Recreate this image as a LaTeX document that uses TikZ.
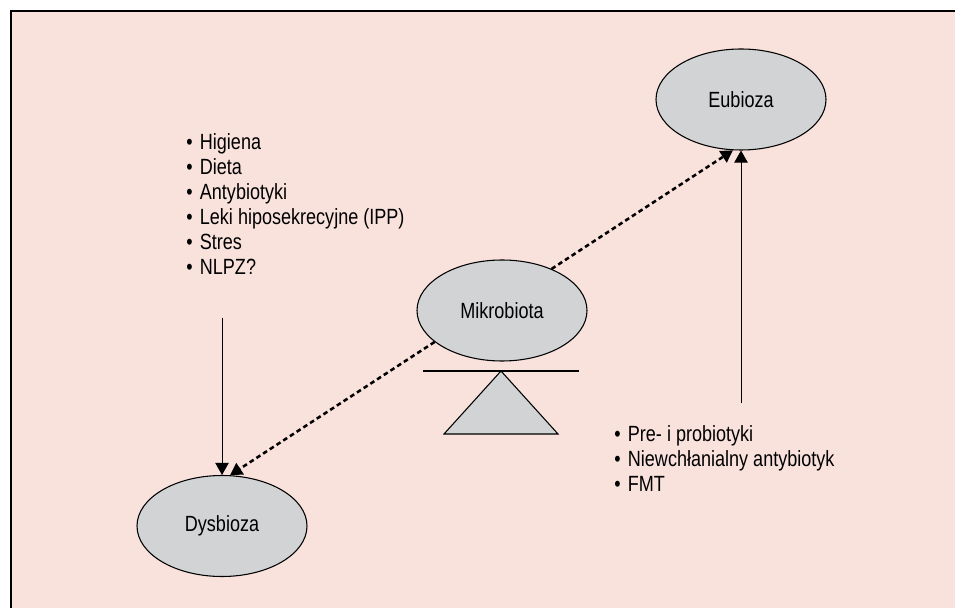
\documentclass[tikz,border=0pt]{standalone}
\usepackage{fontspec}
\setmainfont[FakeStretch=0.82]{Liberation Sans}
\usetikzlibrary{arrows.meta,shapes.geometric}
\definecolor{mbpink}{HTML}{F9E1DC}
\definecolor{mbgrey}{HTML}{D1D3D4}
\tikzset{
  oval/.style={ellipse, draw=black, line width=0.8pt, fill=mbgrey,
    minimum width=127.5pt, minimum height=75.75pt, inner sep=0pt, font=\fontsize{16.5pt}{19pt}\selectfont},
  flow/.style={-{Triangle[length=9pt, width=10pt]}, line width=0.75pt, draw=black},
  dflow/.style={-{Triangle[length=9pt, width=10pt]}, line width=1.9pt, draw=black,
    dash pattern=on 3.5pt off 2.5pt},
  bullets/.style={align=left, inner sep=0pt, anchor=north west,
    font=\fontsize{16.5pt}{18.75pt}\selectfont},
}
\newcommand{\itm}{\textbullet\hspace{5.5pt}}

\begin{document}
\begin{tikzpicture}[x=0.75pt, y=0.75pt]
\useasboundingbox (0,0) rectangle (955,607);
\draw[fill=mbpink, line width=0.9pt] (11,596) rectangle (975,-20);
% ovals
\node[oval] (eub) at (741,507.5) {Eubioza};
\node[oval] (mik) at (502,296.5) {Mikrobiota};
\node[oval] (dys) at (222,81) {Dysbioza};
% balance under the microbiota
\coordinate (pivot) at (501,236);
\draw[line width=0.8pt] (423,236) -- (579,236);
\draw[line width=0.8pt, fill=mbgrey] (pivot) -- (444,173) -- (558,173) -- cycle;
% lists
\node[bullets] (risk) at (186,474)
  {\itm Higiena\\\itm Dieta\\\itm Antybiotyki\\\itm Leki hiposekrecyjne (IPP)\\\itm Stres\\\itm NLPZ?};
\node[bullets] (cure) at (614,182)
  {\itm Pre- i probiotyki\\\itm Niewchłanialny antybiotyk\\\itm FMT};
% arrows
\coordinate (riskend) at (222,289);
\coordinate (cureend) at (741,204);
\draw[flow] (riskend) -- (dys.north);
\draw[flow] (cureend) -- (eub.south);
\draw[dflow] (mik.40) -- (eub.261);
\draw[dflow] (mik.205) -- (dys.81);
\end{tikzpicture}
\end{document}
